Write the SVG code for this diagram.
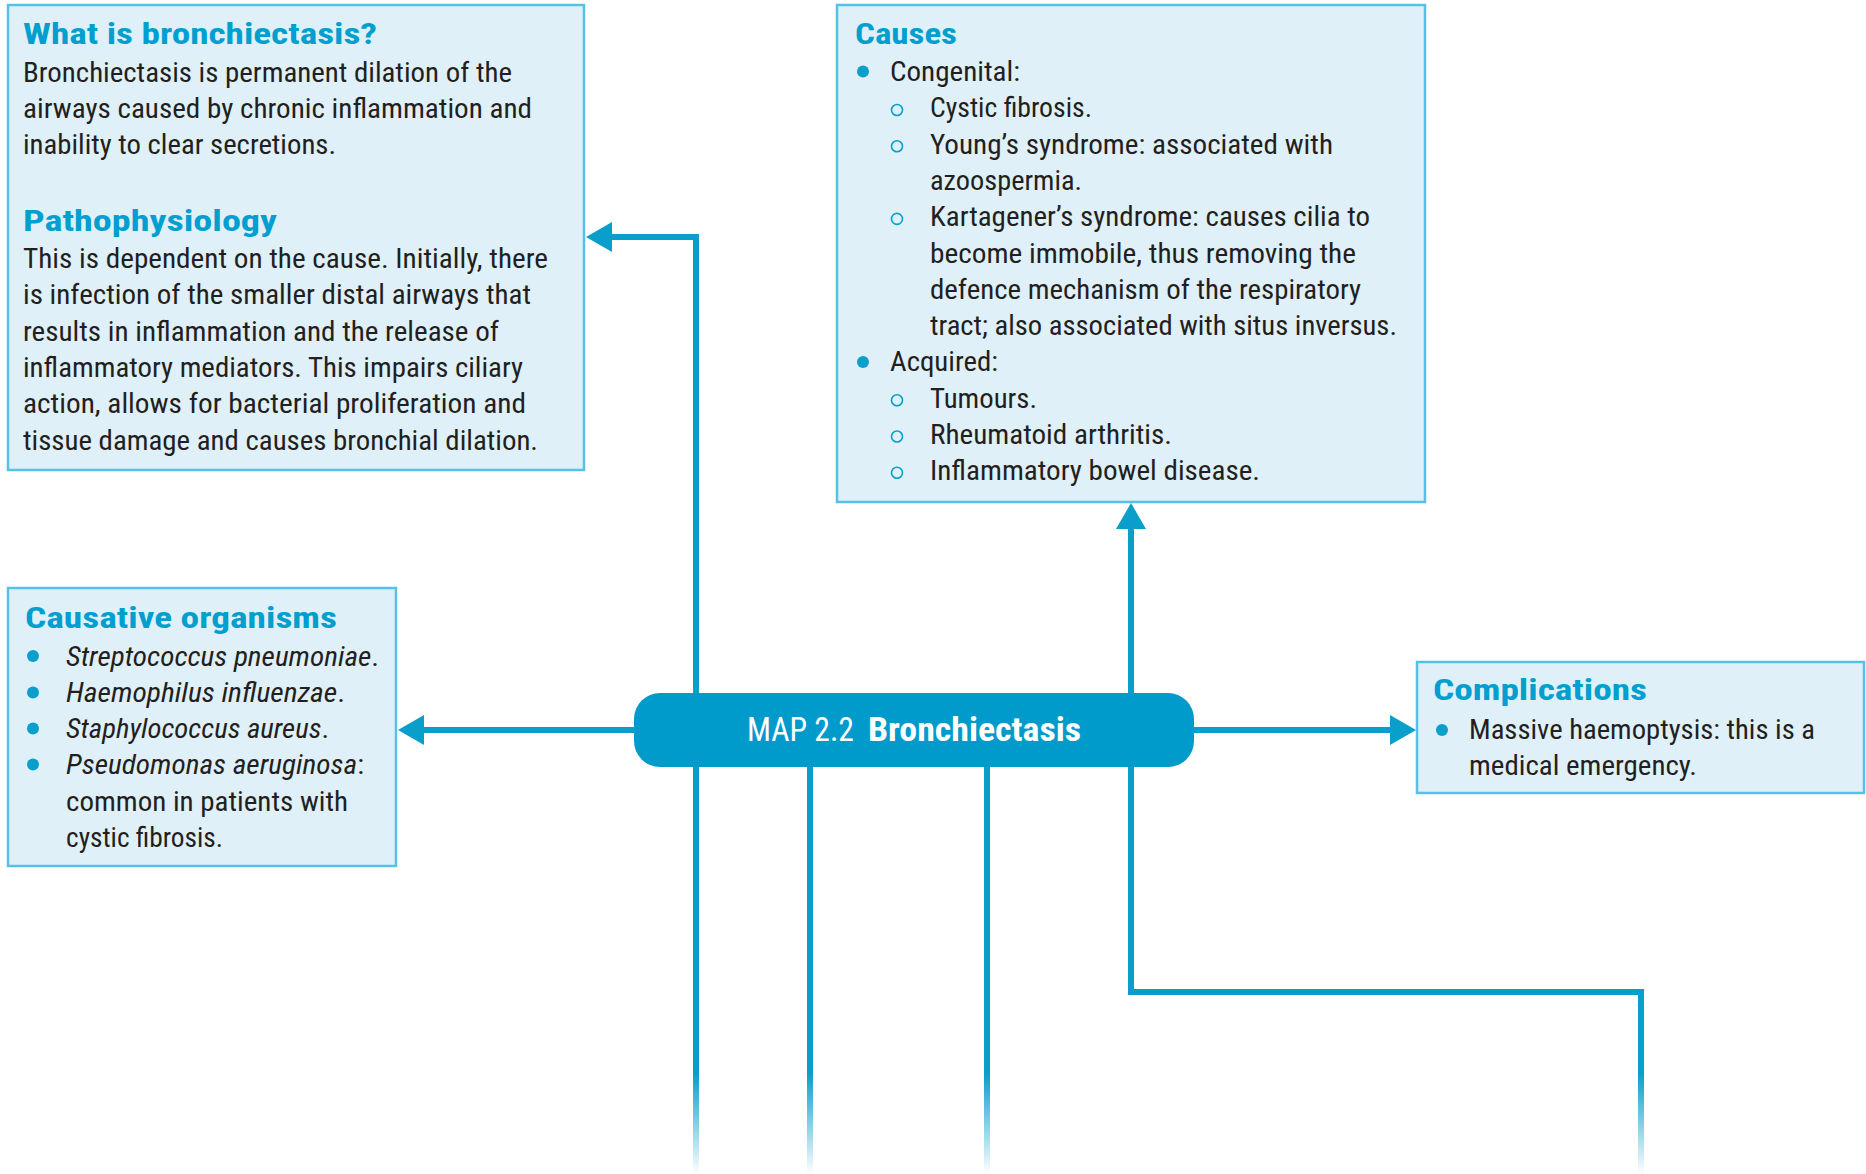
<svg xmlns="http://www.w3.org/2000/svg" width="1866" height="1174" viewBox="0 0 1866 1174">
  <style>
    .box { fill: #dff0f8; stroke: #55c1e6; stroke-width: 2.5; }
    .t, .h, .c { font-family: "Liberation Sans Narrow", "Roboto Condensed", "DejaVu Sans Condensed", "Liberation Sans", Arial, sans-serif; }
    .h { font-size: 30px; font-weight: bold; fill: #009fcf; }
    .t { font-size: 27px; fill: #231f20; }
    .i { font-style: italic; }
    .dot { fill: #0a9fcb; }
    .ring { fill: none; stroke: #0a9fcb; stroke-width: 1.6; }
    .link { fill: none; stroke: #0a9fcb; stroke-width: 6; }
    .down { fill: none; stroke: url(#fade); stroke-width: 6; }
    .c { font-size: 33px; fill: #ffffff; }
  </style>
  <defs>
    <marker id="arrow" markerUnits="userSpaceOnUse" markerWidth="26" markerHeight="30" viewBox="0 0 26 30" refX="0" refY="15" orient="auto">
      <path d="M0,0 L26,15 L0,30 z" fill="#0a9fcb"/>
    </marker>
    <linearGradient id="fade" gradientUnits="userSpaceOnUse" x1="0" y1="1074" x2="0" y2="1174">
      <stop offset="0" stop-color="#0a9fcb" stop-opacity="1"/>
      <stop offset="1" stop-color="#0a9fcb" stop-opacity="0"/>
    </linearGradient>
  </defs>

  <!-- connectors -->
  <g id="connectors">
    <path class="link" d="M696,693 V237 H612" marker-end="url(#arrow)"/>
    <path class="link" d="M1131,693 V529" marker-end="url(#arrow)"/>
    <path class="link" d="M634,730 H424" marker-end="url(#arrow)"/>
    <path class="link" d="M1194,730 H1390" marker-end="url(#arrow)"/>
    <path class="down" d="M696,767 V1174"/>
    <path class="down" d="M810,767 V1174"/>
    <path class="down" d="M987,767 V1174"/>
    <path class="down" d="M1131,767 V992 H1641 V1174"/>
  </g>

  <!-- definition and pathophysiology -->
  <g id="node-what">
    <rect class="box" x="8" y="5" width="576" height="465"/>
    <text class="h" x="23" y="44" textLength="354" lengthAdjust="spacingAndGlyphs">What is bronchiectasis?</text>
    <text class="t" x="23" y="82" textLength="489" lengthAdjust="spacingAndGlyphs">Bronchiectasis is permanent dilation of the</text>
    <text class="t" x="23" y="118" textLength="509" lengthAdjust="spacingAndGlyphs">airways caused by chronic inflammation and</text>
    <text class="t" x="23" y="154" textLength="313" lengthAdjust="spacingAndGlyphs">inability to clear secretions.</text>
    <text class="h" x="23" y="231" textLength="254" lengthAdjust="spacingAndGlyphs">Pathophysiology</text>
    <text class="t" x="23" y="268" textLength="525" lengthAdjust="spacingAndGlyphs">This is dependent on the cause. Initially, there</text>
    <text class="t" x="23" y="304" textLength="508" lengthAdjust="spacingAndGlyphs">is infection of the smaller distal airways that</text>
    <text class="t" x="23" y="340.5" textLength="476" lengthAdjust="spacingAndGlyphs">results in inflammation and the release of</text>
    <text class="t" x="23" y="377" textLength="500" lengthAdjust="spacingAndGlyphs">inflammatory mediators. This impairs ciliary</text>
    <text class="t" x="23" y="413" textLength="503" lengthAdjust="spacingAndGlyphs">action, allows for bacterial proliferation and</text>
    <text class="t" x="23" y="449.5" textLength="515" lengthAdjust="spacingAndGlyphs">tissue damage and causes bronchial dilation.</text>
  </g>

  <!-- causes -->
  <g id="node-causes">
    <rect class="box" x="837" y="5" width="588" height="497"/>
    <text class="h" x="855" y="44" textLength="102" lengthAdjust="spacingAndGlyphs">Causes</text>
    <circle class="dot" cx="863" cy="71.5" r="6"/>
    <text class="t" x="890" y="81" textLength="130" lengthAdjust="spacingAndGlyphs">Congenital:</text>
    <circle class="ring" cx="897" cy="110" r="5.5"/>
    <text class="t" x="930" y="117.3" textLength="162" lengthAdjust="spacingAndGlyphs">Cystic fibrosis.</text>
    <circle class="ring" cx="897" cy="146.3" r="5.5"/>
    <text class="t" x="930" y="153.6" textLength="403" lengthAdjust="spacingAndGlyphs">Young’s syndrome: associated with</text>
    <text class="t" x="930" y="189.9" textLength="152" lengthAdjust="spacingAndGlyphs">azoospermia.</text>
    <circle class="ring" cx="897" cy="218.9" r="5.5"/>
    <text class="t" x="930" y="226.2" textLength="440" lengthAdjust="spacingAndGlyphs">Kartagener’s syndrome: causes cilia to</text>
    <text class="t" x="930" y="262.5" textLength="426" lengthAdjust="spacingAndGlyphs">become immobile, thus removing the</text>
    <text class="t" x="930" y="298.8" textLength="431" lengthAdjust="spacingAndGlyphs">defence mechanism of the respiratory</text>
    <text class="t" x="930" y="335.1" textLength="467" lengthAdjust="spacingAndGlyphs">tract; also associated with situs inversus.</text>
    <circle class="dot" cx="863" cy="362" r="6"/>
    <text class="t" x="890" y="371.4" textLength="108" lengthAdjust="spacingAndGlyphs">Acquired:</text>
    <circle class="ring" cx="897" cy="400.2" r="5.5"/>
    <text class="t" x="930" y="407.7" textLength="107" lengthAdjust="spacingAndGlyphs">Tumours.</text>
    <circle class="ring" cx="897" cy="436.5" r="5.5"/>
    <text class="t" x="930" y="444" textLength="242" lengthAdjust="spacingAndGlyphs">Rheumatoid arthritis.</text>
    <circle class="ring" cx="897" cy="472.8" r="5.5"/>
    <text class="t" x="930" y="480.3" textLength="330" lengthAdjust="spacingAndGlyphs">Inflammatory bowel disease.</text>
  </g>

  <!-- causative organisms -->
  <g id="node-organisms">
    <rect class="box" x="8" y="588" width="388" height="278"/>
    <text class="h" x="25" y="628" textLength="312" lengthAdjust="spacingAndGlyphs">Causative organisms</text>
    <circle class="dot" cx="33" cy="656" r="6"/>
    <text class="t" x="66" y="666" textLength="313" lengthAdjust="spacingAndGlyphs"><tspan class="i">Streptococcus pneumoniae</tspan>.</text>
    <circle class="dot" cx="33" cy="692.5" r="6"/>
    <text class="t" x="66" y="702" textLength="279" lengthAdjust="spacingAndGlyphs"><tspan class="i">Haemophilus influenzae</tspan>.</text>
    <circle class="dot" cx="33" cy="728.5" r="6"/>
    <text class="t" x="66" y="738" textLength="263" lengthAdjust="spacingAndGlyphs"><tspan class="i">Staphylococcus aureus</tspan>.</text>
    <circle class="dot" cx="33" cy="764.5" r="6"/>
    <text class="t" x="66" y="774" textLength="298" lengthAdjust="spacingAndGlyphs"><tspan class="i">Pseudomonas aeruginosa</tspan>:</text>
    <text class="t" x="66" y="811" textLength="282" lengthAdjust="spacingAndGlyphs">common in patients with</text>
    <text class="t" x="66" y="847" textLength="157" lengthAdjust="spacingAndGlyphs">cystic fibrosis.</text>
  </g>

  <!-- complications -->
  <g id="node-complications">
    <rect class="box" x="1417" y="662" width="447" height="131"/>
    <text class="h" x="1433" y="700" textLength="214" lengthAdjust="spacingAndGlyphs">Complications</text>
    <circle class="dot" cx="1442" cy="730" r="6"/>
    <text class="t" x="1469" y="739" textLength="346" lengthAdjust="spacingAndGlyphs">Massive haemoptysis: this is a</text>
    <text class="t" x="1469" y="775" textLength="228" lengthAdjust="spacingAndGlyphs">medical emergency.</text>
  </g>

  <!-- central title -->
  <g id="node-center">
    <rect x="634" y="693" width="560" height="74" rx="26" fill="#009bcb"/>
    <text class="c" x="747" y="741" textLength="107" lengthAdjust="spacingAndGlyphs">MAP 2.2</text>
    <text class="c" x="868" y="741" font-weight="bold" textLength="213" lengthAdjust="spacingAndGlyphs">Bronchiectasis</text>
  </g>
</svg>
